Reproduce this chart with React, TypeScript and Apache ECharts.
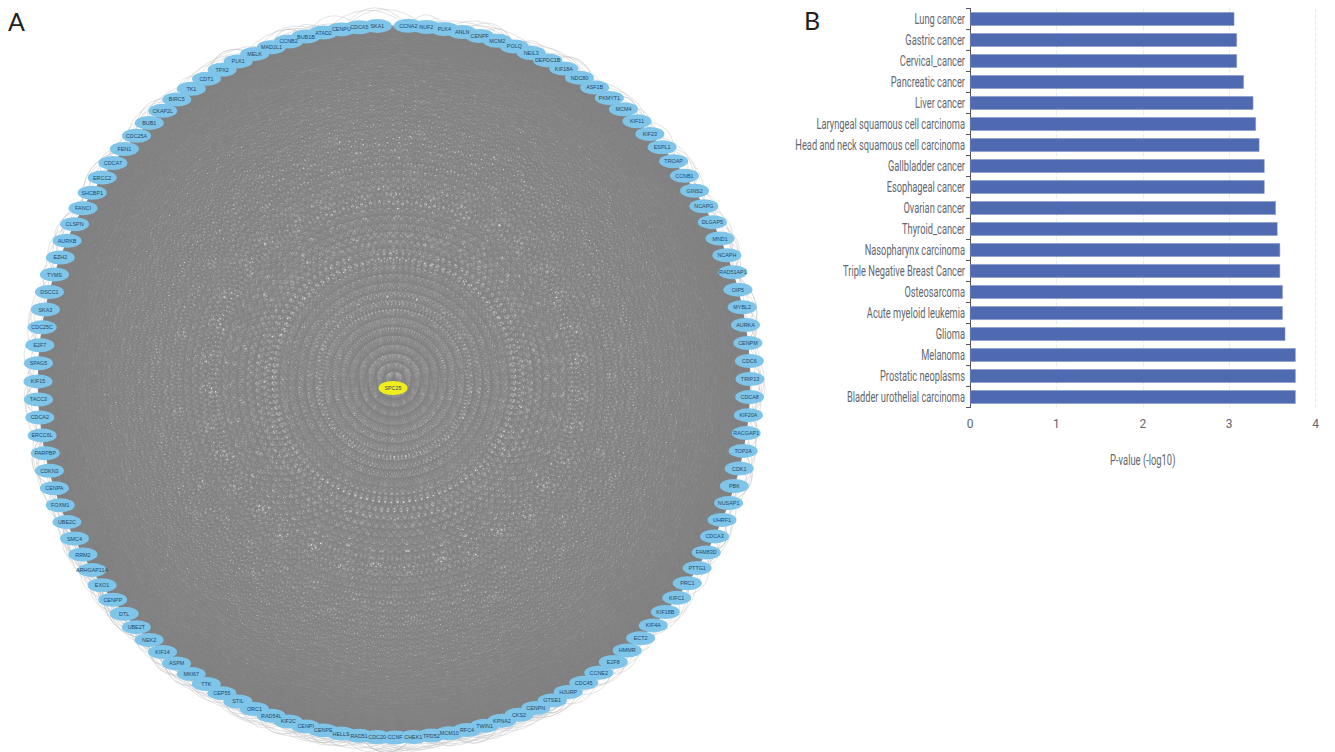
import React, { useEffect, useRef } from "react";
import * as echarts from "echarts";

const ringGenes = ["CCNA2","NUF2","PLK4","ANLN","CENPF","MCM2","POLQ","NEIL3","DEPDC1B","KIF18A","NDC80","ASF1B","PKMYT1","MCM4","KIF11","KIF23","ESPL1","TROAP","CCNB1","GINS2","NCAPG","DLGAP5","MND1","NCAPH","RAD51AP1","OIP5","MYBL2","AURKA","CENPM","CDC6","TRIP13","CDCA8","KIF20A","RACGAP1","TOP2A","CDK1","PBK","NUSAP1","UHRF1","CDCA3","FAM83D","PTTG1","PRC1","KIFC1","KIF18B","KIF4A","ECT2","HMMR","E2F8","CCNE2","CDC45","HJURP","GTSE1","CENPN","CKS2","KPNA2","TWIN1","RFC4","MCM10","TPD52","CHEK1","CCNF","CDC20","RAD51","HELLS","CENPE","CENPI","KIF2C","RAD54L","ORC1","STIL","CEP55","TTK","MKI67","ASPM","KIF14","NEK2","UBE2T","DTL","CENPP","EXO1","ARHGAP11A","RRM2","SMC4","UBE2C","FOXM1","CENPA","CDKN3","PARPBP","ERCC6L","CDCA2","TACC3","KIF15","SPAG5","E2F7","CDC25C","SKA3","DSCC1","TYMS","EZH2","AURKB","CLSPN","FANCI","SHCBP1","ERCC2","CDCA7","FEN1","CDC25A","BUB1","CKAP2L","BIRC5","TK1","CDT1","TPX2","PLK1","MELK","MAD2L1","CCNB2","BUB1B","ATAD2","CENPU","CDCA5","SKA1"];
const centerGene = "SPC25";
const firstAngle = 2.3;
const angleStep = 2.91;
const outerSpans = [2, 1, 4, 3, 1, 6, 2, 5, 3, 1, 8, 4, 2];
const bottomSpans = [3, 5, 7, 2, 9, 4];

const cancers = ["Lung cancer","Gastric cancer","Cervical_cancer","Pancreatic cancer","Liver cancer","Laryngeal squamous cell carcinoma","Head and neck squamous cell carcinoma","Gallbladder cancer","Esophageal cancer","Ovarian cancer","Thyroid_cancer","Nasopharynx carcinoma","Triple Negative Breast Cancer","Osteosarcoma","Acute myeloid leukemia","Glioma","Melanoma","Prostatic neoplasms","Bladder urothelial carcinoma"];
const pValues = [3.06,3.09,3.09,3.17,3.28,3.31,3.35,3.41,3.41,3.54,3.56,3.59,3.59,3.62,3.62,3.65,3.77,3.77,3.77];
const xAxisName = "P-value (-log10)";

const ellipse = "path://M0 50A100 50 0 1 0 200 50A100 50 0 1 0 0 50Z";
const squeeze = 0.64;
const textGray = "#62666e";

function buildNodes() {
  const nodes: any[] = ringGenes.map((name, i) => ({
    name,
    value: [356, firstAngle + i * angleStep],
    itemStyle: { color: "#7fc5ea" },
  }));
  nodes.push({ name: centerGene, value: [6.6, 189], itemStyle: { color: "#f2ee1d" } });
  return nodes;
}

function buildLinks() {
  const n = ringGenes.length;
  const links: any[] = [];
  for (let i = 0; i <= n; i++) {
    for (let j = i + 1; j <= n; j++) {
      if ((i * 37 + j * 61 + i * j) % 7 === 0) continue;
      links.push({ source: i, target: j });
    }
  }
  const curved = (i: number, span: number) => ({
    source: i,
    target: (i + span) % n,
    lineStyle: { color: "#c6c6c6", width: 0.5, curveness: span === 1 ? 1.1 : Math.min(0.7, (16 / (18 * span)) * 2) },
  });
  for (let i = 0; i < n - 1; i++) {
    if (i === n - 2) continue;
    links.push(curved(i, outerSpans[i % outerSpans.length]));
    if (i % 2 === 0) links.push(curved(i, outerSpans[(i + 5) % outerSpans.length] + 1));
    if (i >= 48 && i <= 80) {
      links.push(curved(i, bottomSpans[i % bottomSpans.length]));
      links.push(curved(i, bottomSpans[(i + 2) % bottomSpans.length] + 1));
    }
  }
  return links;
}

export default function App() {
  const ref = useRef<HTMLDivElement>(null);
  useEffect(() => {
    const chart = echarts.init(ref.current!, undefined, { renderer: "svg" });
    chart.setOption({
      animation: false,
      backgroundColor: "#ffffff",
      polar: { center: [394, 381.5], radius: 356 },
      radiusAxis: { min: 0, max: 356, show: false },
      angleAxis: { min: 0, max: 360, startAngle: 90, clockwise: true, show: false },
      grid: { left: 970, top: 8.5, width: 345.5, height: 399, containLabel: false },
      xAxis: {
        type: "value", min: 0, max: 4, interval: 1,
        axisLine: { show: false }, axisTick: { show: false },
        axisLabel: { color: textGray, fontSize: 12, fontFamily: "Roboto", margin: 10 },
        splitLine: { show: true, lineStyle: { color: "#e6eaf3", type: "dashed", width: 1 } },
      },
      yAxis: {
        type: "category", inverse: true, data: cancers,
        axisLine: { show: true, lineStyle: { color: "#555", width: 1 } },
        axisTick: { show: true, length: 4, lineStyle: { color: "#555" } },
        axisLabel: { show: false },
        splitLine: { show: false },
      },
      series: [
        {
          type: "bar", data: pValues, barWidth: 13.5,
          itemStyle: { color: "#4f6ab0", borderColor: "#7f93c8", borderWidth: 0.5 },
          silent: true,
        },
        {
          type: "graph", coordinateSystem: "polar", silent: true,
          symbol: ellipse, symbolSize: [29, 14], symbolKeepAspect: false,
          data: buildNodes(), links: buildLinks(),
          lineStyle: { color: "#828282", width: 0.42, opacity: 1, curveness: 0 },
          label: { show: true, position: "inside", fontSize: 5.4, color: "#1f4763", fontFamily: "Liberation Sans" },
          emphasis: { disabled: true },
        },
      ],
    });
    const squeezedText = (text: string, x: number, y: number, align: string, size: number, scale: number) => ({
      type: "text", x, y, scaleX: scale, silent: true,
      style: { text, align, verticalAlign: "middle", fontSize: size, fontFamily: "Roboto", fill: textGray },
    });
    chart.setOption({
      graphic: [
        { type: "text", left: 8, top: 8, style: { text: "A", fontSize: 25, fontFamily: "Lato", fill: "#231f20" } },
        { type: "text", left: 804, top: 7, style: { text: "B", fontSize: 25, fontFamily: "Lato", fill: "#231f20" } },
        ...cancers.map((c) => squeezedText(c, 965, chart.convertToPixel({ yAxisIndex: 0 }, c) as number, "right", 14.5, squeeze)),
        squeezedText(xAxisName, chart.convertToPixel({ xAxisIndex: 0 }, 2) as number, 460, "center", 14, 0.67),
      ],
    });
    return () => chart.dispose();
  }, []);
  return <div ref={ref} style={{ position: "fixed", left: 0, top: 0, width: 1335, height: 752 }} />;
}
